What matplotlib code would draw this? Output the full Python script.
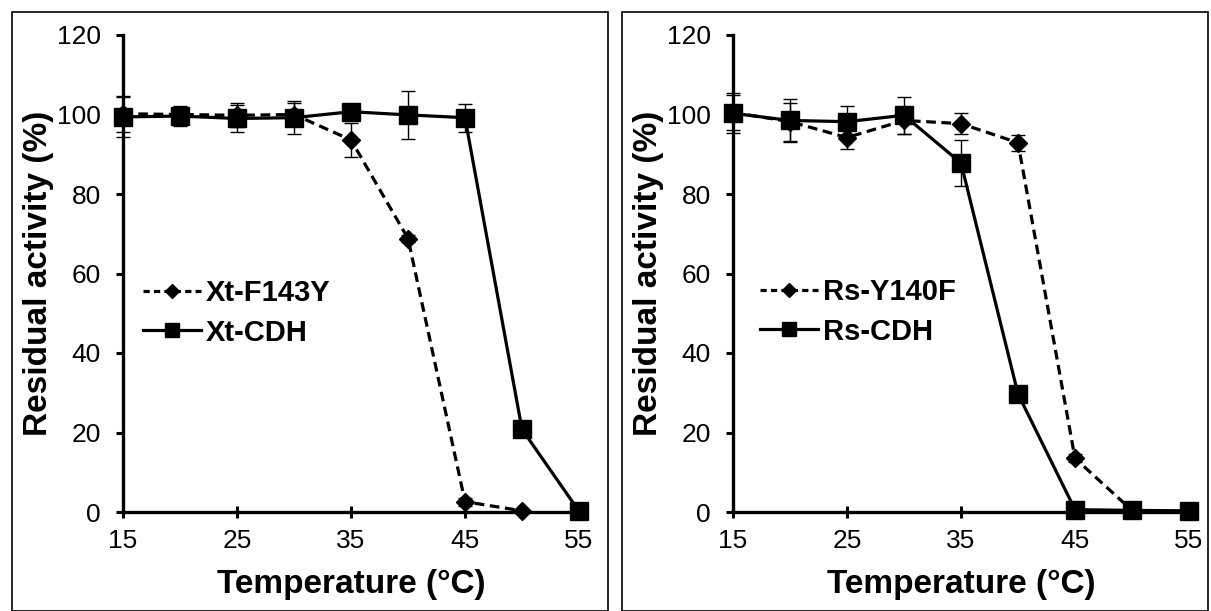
import matplotlib
matplotlib.use("Agg")
import matplotlib.pyplot as plt
from matplotlib.patches import Rectangle
from matplotlib.lines import Line2D

plt.rcParams['font.family'] = ['Liberation Sans', 'DejaVu Sans']
plt.rcParams['lines.scale_dashes'] = False

# ---- data ----
temps = [15, 20, 25, 30, 35, 40, 45, 50, 55]
xticks = [15, 25, 35, 45, 55]
yticks = [0, 20, 40, 60, 80, 100, 120]

xt_f143y = [100.2, 100.0, 99.8, 100.0, 93.6, 68.8, 2.6, 0.3]
xt_f143y_err = [4.5, 1.5, 3.0, 3.0, 4.3, 1.0, 1.0, 0.3]
xt_cdh = [99.4, 99.6, 99.0, 99.2, 100.7, 99.9, 99.2, 20.8, 0.2]
xt_cdh_err = [5.0, 2.5, 3.3, 4.2, 1.0, 6.0, 3.5, 1.0, 0.3]

rs_y140f = [100.5, 98.2, 94.2, 98.5, 97.7, 92.9, 13.5, 0.4]
rs_y140f_err = [4.5, 4.8, 3.0, 3.5, 2.6, 2.0, 1.0, 0.4]
rs_cdh = [100.3, 98.5, 98.2, 99.8, 87.8, 29.7, 0.6, 0.4, 0.3]
rs_cdh_err = [5.0, 5.5, 4.0, 4.7, 5.8, 1.0, 0.5, 0.3, 0.3]

panels = [
    ("Xt-F143Y", xt_f143y, xt_f143y_err, "Xt-CDH", xt_cdh, xt_cdh_err),
    ("Rs-Y140F", rs_y140f, rs_y140f_err, "Rs-CDH", rs_cdh, rs_cdh_err),
]

W, H = 1211, 611
fig = plt.figure(figsize=(W / 100, H / 100), dpi=100)

# panel frames (pixel coords -> figure fraction)
for (x0, x1) in [(12, 608), (622, 1208)]:
    fig.patches.append(Rectangle((x0 / W, 0.0), (x1 - x0) / W, 1 - 12 / H,
                                 transform=fig.transFigure, fill=False,
                                 edgecolor='black', linewidth=1.2))

ax_px = [(123, 579), (733, 1189)]
y_top, y_bot = 35, 512
leg_px = [(143, 279), (760, 278)]

for i, (lab1, v1, e1, lab2, v2, e2) in enumerate(panels):
    xl, xr = ax_px[i]
    ax = fig.add_axes([xl / W, 1 - y_bot / H, (xr - xl) / W, (y_bot - y_top) / H])
    ax.set_xlim(15, 55)
    ax.set_ylim(0, 120)
    for s in ['top', 'right']:
        ax.spines[s].set_visible(False)
    for s in ['left', 'bottom']:
        ax.spines[s].set_linewidth(2.4)
    ax.set_xticks(xticks)
    ax.set_yticks(yticks)
    ax.tick_params(axis='x', direction='inout', length=9, width=2.2, labelsize=19, pad=8)
    ax.tick_params(axis='y', direction='out', length=5, width=2.2, labelsize=19, pad=11)

    ax.errorbar(temps[:len(v1)], v1, yerr=e1, fmt='none', ecolor='black',
                elinewidth=1.0, capsize=5, capthick=1.0, clip_on=False, zorder=3)
    ax.errorbar(temps[:len(v2)], v2, yerr=e2, fmt='none', ecolor='black',
                elinewidth=1.0, capsize=5, capthick=1.0, clip_on=False, zorder=3)
    ax.plot(temps[:len(v1)], v1, color='black', linewidth=2.3, dashes=(7, 4),
            marker='D', markersize=9, clip_on=False, zorder=4, label=lab1)
    ax.plot(temps[:len(v2)], v2, color='black', linewidth=2.3, linestyle='-',
            marker='s', markersize=13, clip_on=False, zorder=5, label=lab2)

    ax.set_xlabel("Temperature (°C)", fontsize=24, fontweight='bold', labelpad=11)
    ax.set_ylabel("Residual activity (%)", fontsize=24, fontweight='bold', labelpad=2)

    h1 = Line2D([], [], color='black', linewidth=2.3, dashes=(4.5, 3), marker='D', markersize=7.5)
    h2 = Line2D([], [], color='black', linewidth=2.3, linestyle='-', marker='s', markersize=10.5)
    lx, ly = leg_px[i]
    ax.legend([h1, h2], [lab1, lab2], loc='upper left',
              bbox_to_anchor=(lx / W, 1 - ly / H), bbox_transform=fig.transFigure,
              frameon=False, prop={'weight': 'bold', 'size': 21},
              handlelength=2.0, handletextpad=0.15, labelspacing=0.4,
              borderpad=0, borderaxespad=0, numpoints=1)

fig.savefig("out.png", dpi=100)
